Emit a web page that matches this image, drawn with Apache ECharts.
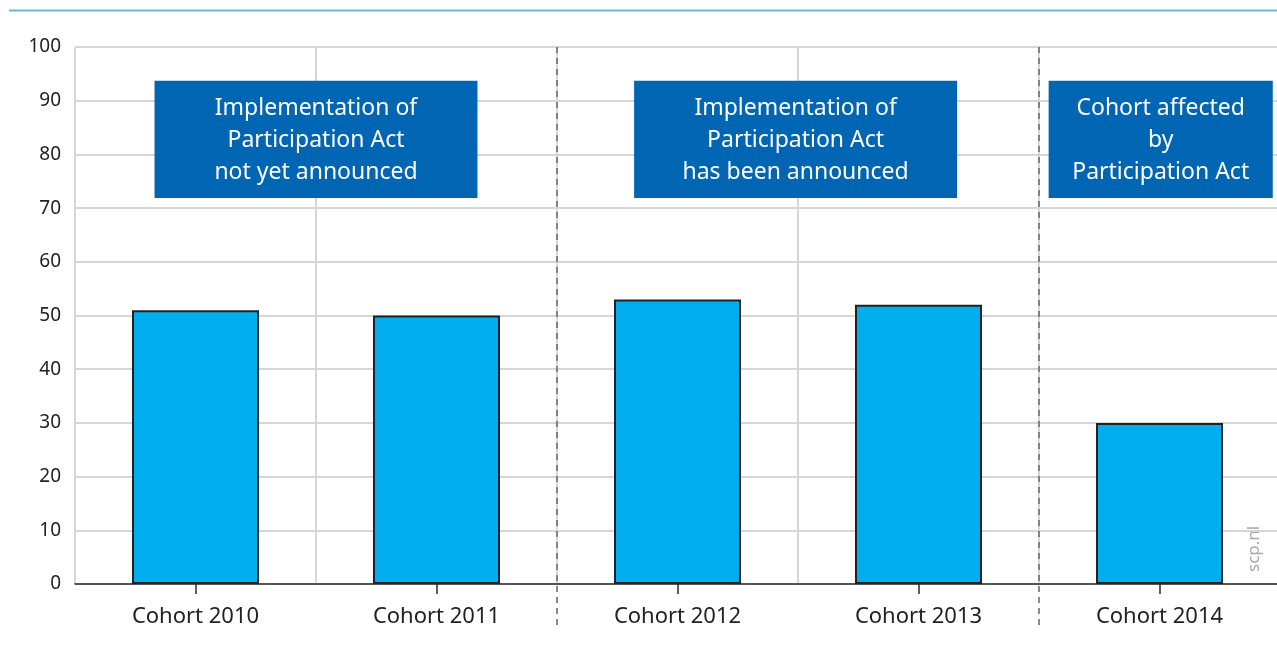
<!DOCTYPE html>
<html><head><meta charset="utf-8">
<script src="https://cdn.jsdelivr.net/npm/echarts@6/dist/echarts.min.js"></script>
<style>html,body{margin:0;padding:0;background:#fff}#c{width:1277px;height:653px}</style>
</head><body><div id="c"></div>
<script>
const categories = ['Cohort 2010', 'Cohort 2011', 'Cohort 2012', 'Cohort 2013', 'Cohort 2014'];
const values = [51, 50, 53, 52, 30];
const yTicks = [0, 10, 20, 30, 40, 50, 60, 70, 80, 90, 100];
const dividers = [2, 4];
const annotationTexts = [
  'Implementation of\nParticipation Act\nnot yet announced',
  'Implementation of\nParticipation Act\nhas been announced',
  'Cohort affected\nby\nParticipation Act'
];
const annotationSpans = [[0.33, 1.67, 93.7, 71.9], [2.32, 3.66, 93.7, 71.9], [4.04, 4.97, 93.7, 71.9]];
const sourceText = 'scp.nl';

const FONT = '"Noto Sans", "Open Sans", sans-serif';
const chart = echarts.init(document.getElementById('c'));
chart.setOption({
  animation: false,
  grid: { left: 75, width: 1205, top: 47, bottom: 69, containLabel: false, outerBoundsMode: 'none' },
  xAxis: [{
    type: 'category', data: categories, boundaryGap: true,
    axisLine: { show: true, lineStyle: { color: '#2a2a2a', width: 1.5 } },
    axisTick: { show: true, alignWithLabel: true, length: 10, lineStyle: { color: '#2a2a2a', width: 1.5 } },
    axisLabel: { color: '#222', fontSize: 22, fontFamily: FONT, margin: 22 },
    splitLine: { show: true, lineStyle: { color: '#d6d6d6', width: 2 } }
  }, {
    type: 'value', min: 0, max: 5, show: false, position: 'bottom'
  }],
  yAxis: {
    type: 'value', min: yTicks[0], max: yTicks[yTicks.length - 1], interval: 10,
    axisLine: { show: false }, axisTick: { show: false },
    axisLabel: { color: '#222', fontSize: 19, fontFamily: FONT, margin: 14 },
    splitLine: { show: true, lineStyle: { color: '#d6d6d6', width: 2 } }
  },
  series: [{
    type: 'bar', data: values, barWidth: 127, z: 3,
    itemStyle: { color: '#00aeef', borderColor: '#222', borderWidth: 2 }
  }, {
    type: 'custom', xAxisIndex: 1, yAxisIndex: 0, z: 2, clip: false,
    data: dividers.map(d => [d, 100]),
    encode: { x: 0, y: 1 },
    renderItem: (params, api) => {
      const top = api.coord([api.value(0), 100]);
      const bot = api.coord([api.value(0), 0]);
      return { type: 'line', shape: { x1: top[0], y1: top[1], x2: bot[0], y2: bot[1] + 41 },
        style: { stroke: '#666', lineWidth: 1.5, lineDash: [6, 5] } };
    }
  }, {
    type: 'custom', xAxisIndex: 1, yAxisIndex: 0, z: 4, clip: false,
    data: annotationSpans,
    encode: { x: [0, 1], y: [2, 3] },
    renderItem: (params, api) => {
      const p0 = api.coord([api.value(0), api.value(2)]);
      const p1 = api.coord([api.value(1), api.value(3)]);
      return { type: 'group', children: [
        { type: 'rect', shape: { x: p0[0], y: p0[1], width: p1[0] - p0[0], height: p1[1] - p0[1] },
          style: { fill: '#0065b3' } },
        { type: 'text', style: { text: annotationTexts[params.dataIndex], x: (p0[0] + p1[0]) / 2, y: (p0[1] + p1[1]) / 2 + 1.5,
          align: 'center', verticalAlign: 'middle', fill: '#fff', fontSize: 23, fontFamily: FONT, lineHeight: 32 } }
      ] };
    }
  }],
  graphic: [
    { type: 'line', shape: { x1: 9, y1: 10.5, x2: 1277, y2: 10.5 }, style: { stroke: '#62b8e3', lineWidth: 2 } },
    { type: 'text', x: 1254, y: 572, rotation: Math.PI / 2,
      style: { text: sourceText, fill: '#a8a8a8', fontSize: 17, fontFamily: FONT, align: 'left', verticalAlign: 'middle' } }
  ]
});
</script></body></html>
